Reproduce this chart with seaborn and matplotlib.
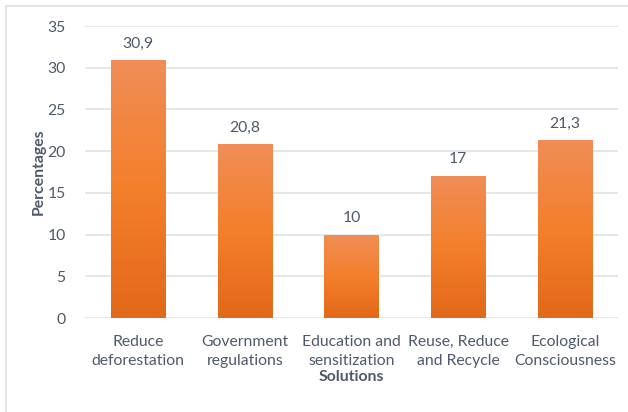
import numpy as np
import pandas as pd
import matplotlib
matplotlib.use("Agg")
import matplotlib.pyplot as plt
from matplotlib.colors import LinearSegmentedColormap
from matplotlib.lines import Line2D
import seaborn as sns

categories = ["Reduce\ndeforestation", "Government\nregulations", "Education and\nsensitization",
              "Reuse, Reduce\nand Recycle", "Ecological\nConsciousness"]
values = [30.9, 20.8, 10, 17, 21.3]
value_labels = ["30,9", "20,8", "10", "17", "21,3"]
y_ticks = [0, 5, 10, 15, 20, 25, 30, 35]

sns.set_theme(style="white")
plt.rcParams['font.family'] = ['Lato', 'DejaVu Sans']

text_color = "#4E596B"
grid_color = "#E1E5EA"

fig = plt.figure(figsize=(6.28, 4.12), dpi=100)
ax = fig.add_axes([85/628, 1-318/412, (618-85)/628, (318-26)/412])

df = pd.DataFrame({"Solutions": categories, "Percentages": values})
sns.barplot(data=df, x="Solutions", y="Percentages", color="#F07F2A", width=0.51, ax=ax,
            saturation=1, zorder=3)

ax.set_ylim(0, 35)
ax.set_xlim(-0.5, 4.5)
ax.set_yticks(y_ticks)
ax.yaxis.grid(True, color=grid_color, linewidth=1.3, zorder=0)
ax.set_axisbelow(True)
for s in ax.spines.values():
    s.set_visible(False)
ax.tick_params(axis='both', length=0, colors=text_color, labelsize=11.3)
ax.tick_params(axis='y', pad=14)
ax.tick_params(axis='x', pad=12)
for lbl in ax.get_xticklabels():
    lbl.set_linespacing(1.45)

# gradient fill
cmap = LinearSegmentedColormap.from_list("g", ["#E2681A", "#F47F2B", "#F08D57"])
grad = np.linspace(0, 1, 256).reshape(-1, 1)
for p in list(ax.patches):
    x0, y0 = p.get_x(), p.get_y()
    w, h = p.get_width(), p.get_height()
    im = ax.imshow(grad, cmap=cmap, origin='lower', aspect='auto',
                   extent=[x0, x0 + w, y0, y0 + h], zorder=4)
    im.set_clip_path(p)
ax.set_xlim(-0.5, 4.5)
ax.set_ylim(0, 35)

for i, (v, t) in enumerate(zip(values, value_labels)):
    ax.annotate(t, (i, v), xytext=(0, 7), textcoords="offset points",
                ha="center", va="bottom", fontsize=11.3, color=text_color)

ax.set_xlabel("Solutions", fontsize=11.3, fontweight="bold", color=text_color, labelpad=2)
ax.set_ylabel("Percentages", fontsize=11.3, fontweight="bold", color=text_color, labelpad=1)

# chart border (top and left visible)
fig.add_artist(Line2D([5.5/628, 1], [1-6/412, 1-6/412], transform=fig.transFigure,
                      color="#DDE1E6", linewidth=1.2))
fig.add_artist(Line2D([5.5/628, 5.5/628], [0, 1-6/412], transform=fig.transFigure,
                      color="#DDE1E6", linewidth=1.2))

fig.savefig("out.png", dpi=100)
